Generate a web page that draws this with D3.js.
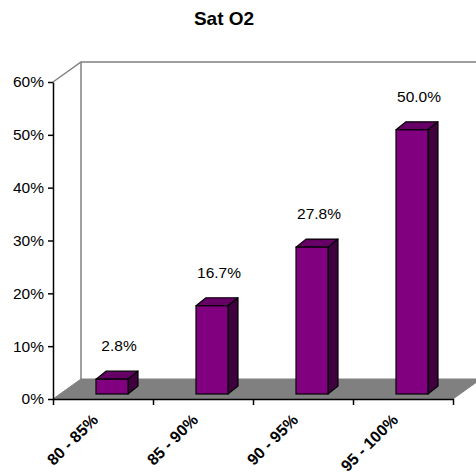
<!DOCTYPE html>
<html>
<head>
<meta charset="utf-8">
<script src="https://cdn.jsdelivr.net/npm/d3@7"></script>
<style>
  html, body { margin: 0; padding: 0; background: #fff; }
  svg { display: block; font-family: "Liberation Sans", Arial, sans-serif; }
</style>
</head>
<body>
<svg id="chart" width="476" height="475"></svg>
<script>
// Oxygen saturation distribution (share of patients per range)
const categories = ["80 - 85%", "85 - 90%", "90 - 95%", "95 - 100%"];
const values = [2.8, 16.7, 27.8, 50.0];
const yTicks = [0, 10, 20, 30, 40, 50, 60];
const title = "Sat O2";

const svg = d3.select("#chart");

const plot = { left: 53, right: 453, top: 82, bottom: 399 };
// oblique projection of the chart depth
const wall = { dx: 28, dy: -20 };
const barShift = { dy: -5 };          // bars sit slightly behind the front edge
const barDepth = { dx: 10, dy: -8 };

const x = d3.scaleBand().domain(categories).range([plot.left, plot.right]);
const y = d3.scaleLinear().domain([0, 60]).range([plot.bottom, plot.top]);
const xEdge = d3.scaleLinear().domain([0, categories.length]).range([plot.left, plot.right]);

// title
svg.append("text")
  .attr("x", 224).attr("y", 25)
  .attr("text-anchor", "middle")
  .attr("font-size", 19).attr("font-weight", "bold")
  .text(title);

// back wall outline
const g = svg.append("g");
const wallColor = "#808080";
g.append("path")
  .attr("d", `M${plot.left},${plot.top} L${plot.left + wall.dx},${plot.top + wall.dy}
              L${plot.right + wall.dx},${plot.top + wall.dy}`)
  .attr("fill", "none").attr("stroke", wallColor).attr("stroke-width", 1.5);
g.append("line")
  .attr("x1", plot.left + wall.dx).attr("x2", plot.left + wall.dx)
  .attr("y1", plot.top + wall.dy).attr("y2", plot.bottom + wall.dy)
  .attr("stroke", wallColor).attr("stroke-width", 1.5);

// floor
g.append("path")
  .attr("d", `M${plot.left},${plot.bottom} L${plot.left + wall.dx},${plot.bottom + wall.dy}
              L${plot.right + wall.dx},${plot.bottom + wall.dy} L${plot.right},${plot.bottom} Z`)
  .attr("fill", "#808080").attr("stroke", "#808080").attr("stroke-width", 1);

// bars
const bw = x.bandwidth();
const bars = g.selectAll("g.bar").data(categories.map((c, i) => ({ c, v: values[i] })))
  .enter().append("g").attr("class", "bar");

bars.each(function(d) {
  const b = d3.select(this);
  const x0 = x(d.c) + bw * 0.43; // front-left corner
  const x1 = x0 + bw * 0.32;
  const yb = y(0) + barShift.dy;
  const yt = y(d.v) + barShift.dy;
  const ddx = barDepth.dx, ddy = barDepth.dy;
  // top face
  b.append("path")
    .attr("d", `M${x0},${yt} L${x0 + ddx},${yt + ddy} L${x1 + ddx},${yt + ddy} L${x1},${yt} Z`)
    .attr("fill", "#660066").attr("stroke", "#000").attr("stroke-width", 1.2).attr("stroke-linejoin", "round");
  // side face
  b.append("path")
    .attr("d", `M${x1},${yt} L${x1 + ddx},${yt + ddy} L${x1 + ddx},${yb + ddy} L${x1},${yb} Z`)
    .attr("fill", "#400040").attr("stroke", "#000").attr("stroke-width", 1.2).attr("stroke-linejoin", "round");
  // front face
  b.append("rect")
    .attr("x", x0).attr("y", yt).attr("width", x1 - x0).attr("height", yb - yt)
    .attr("fill", "#800080").attr("stroke", "#000").attr("stroke-width", 1.2);
  // value label
  b.append("text")
    .attr("x", (x0 + x1) / 2 + 7).attr("y", yt + ddy - 20)
    .attr("text-anchor", "middle").attr("font-size", 15.5)
    .text(d.v.toFixed(1) + "%");
});

// y axis
const yAxis = svg.append("g")
  .attr("transform", `translate(${plot.left},0)`)
  .call(d3.axisLeft(y).tickValues(yTicks).tickFormat(d => d + "%").tickSize(5).tickSizeOuter(0).tickPadding(4));
yAxis.select(".domain").attr("stroke", "#000").attr("stroke-width", 1.5);
yAxis.selectAll(".tick line").attr("stroke", "#000").attr("stroke-width", 1.5);
yAxis.selectAll(".tick text")
  .attr("font-size", 15.5).attr("fill", "#000")
  .attr("font-family", "'Liberation Sans', Arial, sans-serif");

// x axis
const xAxis = svg.append("g")
  .attr("transform", `translate(0,${plot.bottom})`)
  .call(d3.axisBottom(xEdge).tickValues(d3.range(categories.length + 1)).tickFormat("").tickSize(6).tickSizeOuter(0));
xAxis.select(".domain").attr("stroke", "#000").attr("stroke-width", 1.5);
xAxis.selectAll(".tick line").attr("stroke", "#000").attr("stroke-width", 1.5);

// rotated category labels
svg.append("g").selectAll("text").data(categories).enter().append("text")
  .attr("transform", d => `translate(${x(d) + bw / 2 - 4},${plot.bottom + 22}) rotate(-45)`)
  .attr("text-anchor", "end")
  .attr("font-size", 16).attr("font-weight", "bold")
  .text(d => d);
</script>
</body>
</html>
